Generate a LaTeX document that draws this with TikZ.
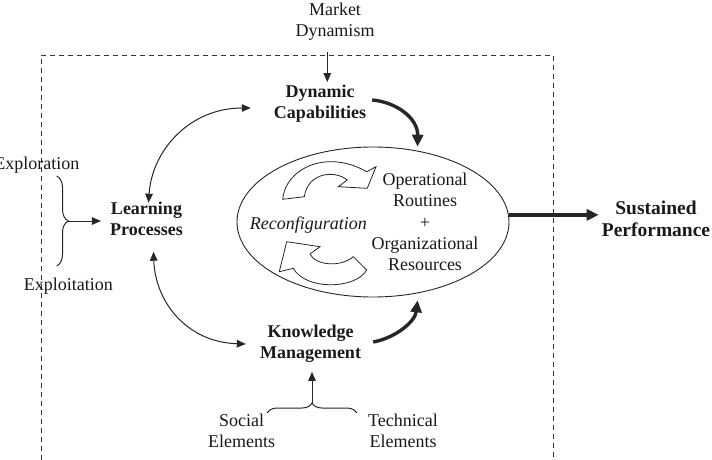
\documentclass[tikz,border=0pt]{standalone}
\usepackage{fontspec}
\setmainfont{Liberation Serif}
\usetikzlibrary{arrows.meta,shapes.geometric,decorations.pathreplacing,calc}
\begin{document}
\begin{tikzpicture}[x=1pt,y=-1pt,
  txt/.style={font=\fontsize{18}{21}\selectfont, align=center, inner sep=3pt, text=black!90},
  btxt/.style={txt, font=\fontsize{18}{21}\selectfont\bfseries},
  boxline/.style={line width=0.8pt, dash pattern=on 5pt off 4pt, black!80},
  thinarr/.style={line width=1pt, black!85, -{Triangle[length=9pt,width=7.5pt]}},
  dblarr/.style={line width=1pt, black!85, {Triangle[length=9pt,width=7.5pt]}-{Triangle[length=9pt,width=7.5pt]}},
  thickarr/.style={line width=3.4pt, black!85, -{Triangle[length=12pt,width=11pt]}},
  blockarrow/.style={line width=0.8pt, draw=black!85, fill=white, line join=miter},
  bracestyle/.style={line width=1pt, black!85, decorate}
]
\useasboundingbox (0,0) rectangle (712,460);

% dashed frame (open at the bottom)
\draw[boxline] (41,460) -- (41,55) -- (553.3,55) -- (553.3,460);

% text nodes
\node[txt]  (md)     at (335,22)    {Market\\Dynamism};
\node[btxt] (dc)     at (320,104)   {Dynamic\\Capabilities};
\node[btxt] (lp)     at (146.5,218.7) {Learning\\Processes};
\node[btxt] (km)     at (310.5,344) {Knowledge\\Management};
\node[btxt, font=\fontsize{19.5}{22}\selectfont\bfseries] (sp) at (656,219) {Sustained\\Performance};
\node[txt]  (explo)  at (36.8,165)  {Exploration};
\node[txt]  (exploi) at (68.3,286)  {Exploitation};
\node[txt]  (social) at (241.5,430.5) {Social\\Elements};
\node[txt]  (tech)   at (403,430.5) {Technical\\Elements};

% central ellipse
\node[draw=black!85, ellipse, line width=0.9pt, minimum width=272pt, minimum height=150pt, inner sep=0pt] (core) at (373,222) {};
\node[txt, font=\fontsize{18}{21}\selectfont\itshape] (reconf) at (308.3,225) {Reconfiguration};
\node[txt, font=\fontsize{18}{21.25}\selectfont] (ops) at (425,222) {Operational\\Routines\\+\\Organizational\\Resources};

% hollow circular arrows
\path[blockarrow] (282.7,199.3) .. controls (285,170) and (325,148) .. (366.7,171.7)
  -- (376,166.7) -- (367.3,188.3) -- (338.3,186.7) -- (347.3,180)
  .. controls (335,170) and (308,172) .. (304.3,196.7) -- cycle;
\path[blockarrow] (366.7,270) .. controls (355,290) and (305,290) .. (293.3,268.3)
  -- (279.3,271.7) -- (286.7,241.7) -- (320,246.7) -- (310,254)
  .. controls (315,265) and (340,268) .. (353.3,256.7) -- cycle;

% market dynamism arrow
\coordinate (m1) at (327.3,52);
\draw[thinarr] (m1) -- (m1 |- dc.north);

% double curved arrows
\draw[dblarr] ($(lp.north)+(2,4)$) .. controls (152,150) and (190,108) .. ($(dc.west)+(-20,4)$);
\draw[dblarr] ($(lp.south)+(7,13)$) .. controls (155,300) and (185,342) .. ($(km.west)+(-11,0)$);

% thick arrows
\draw[thickarr] ($(dc.east)+(3,-4)$) .. controls (396,102) and (418,118) .. ($(core.58)+(0,-4)$);
\draw[thickarr] ($(km.east)+(9,-2)$) .. controls (395,338) and (415,322) .. ($(core.-58)+(0,7)$);
\draw[thickarr] (core.3) -- (core.3 -| sp.west);

% left brace
\coordinate (b1t) at (56.7,176);
\coordinate (b1b) at (56.7,266);
\coordinate (b1tip) at (68.3,221);
\draw[bracestyle, decoration={brace, amplitude=11.6pt}] (b1t) -- (b1b);
\draw[thinarr, shorten >=6pt] (b1tip) -- (b1tip -| lp.west);

% bottom brace
\coordinate (b2l) at (267.3,413);
\coordinate (b2r) at (356.7,413);
\coordinate (b2tip) at (312,403);
\draw[bracestyle, decoration={brace, amplitude=10pt}] (b2l) -- (b2r);
\draw[thinarr, shorten >=6pt] (b2tip) -- (b2tip |- km.south);
\end{tikzpicture}
\end{document}
